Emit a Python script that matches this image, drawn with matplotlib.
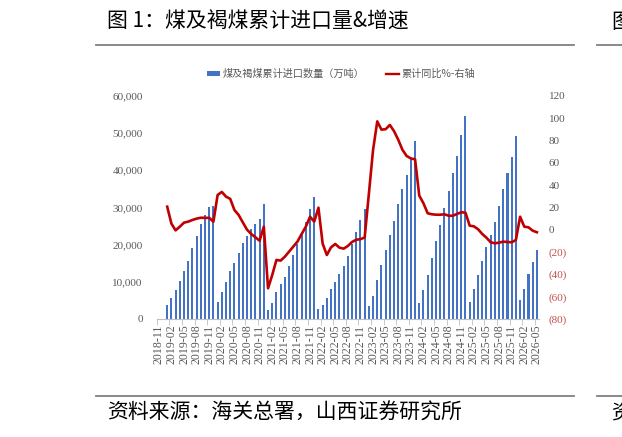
import numpy as np
import matplotlib
matplotlib.use('Agg')
import matplotlib.pyplot as plt
from matplotlib.patches import Patch
from matplotlib.lines import Line2D
from matplotlib.ticker import FuncFormatter

plt.rcParams['font.family'] = ['Noto Sans CJK SC', 'DejaVu Sans']

# cumulative coal & lignite imports, 10k tons (Jan..Dec of each year)
imp_2019 = [3760, 5560, 7800, 10300, 12900, 15700, 19100, 22400, 25400, 27900, 30100, 30300]
imp_2020 = [4700, 7200, 9900, 12900, 15100, 17700, 20300, 22400, 24200, 25500, 26800, 30800]
imp_2021 = [2400, 4400, 7200, 9400, 11400, 14300, 17300, 20100, 23000, 26100, 29600, 32700]
imp_2022 = [2700, 3800, 5600, 8000, 9900, 12000, 14200, 17000, 20200, 23300, 26600, 29600]
imp_2023 = [3500, 6300, 10500, 14500, 18500, 22500, 26400, 30900, 35000, 38600, 42900, 47700]
imp_2024 = [4200, 7800, 11800, 16300, 20900, 25300, 29800, 34500, 39200, 43900, 49500, 54600]
imp_2025 = [4600, 8000, 11700, 15600, 19300, 22600, 26000, 30300, 34900, 39100, 43500, 49300]
imp_2026 = [5000, 8100, 12000, 15200, 18500]

# cumulative yoy, %
yoy_2019 = [20.6, 5.4, -0.6, 2.7, 6.3, 7.2, 8.7, 9.9, 10.7, 10.6, 10.6, 7.2]
yoy_2020 = [31.1, 33.8, 29.6, 27.6, 17.6, 13.2, 6.5, 0.0, -3.9, -6.8, -9.9, 2.7]
yoy_2021 = [-52.5, -40.6, -27.1, -27.7, -24.2, -19.7, -15.2, -10.7, -3.9, 2.7, 11.6, 7.2]
yoy_2022 = [19.7, -12.5, -22.7, -15.8, -12.8, -16.1, -17.0, -14.6, -11.0, -9.0, -8.5, -7.0]
yoy_2023 = [32.0, 71.4, 97.0, 89.6, 90.0, 93.8, 88.2, 80.5, 71.5, 66.0, 63.8, 63.0]
yoy_2024 = [30.5, 23.6, 14.7, 13.8, 13.4, 13.4, 13.8, 12.5, 12.5, 14.1, 15.6, 15.2]
yoy_2025 = [3.6, 3.0, 0.4, -3.9, -7.2, -11.3, -12.2, -11.6, -10.7, -11.0, -11.3, -9.2]
yoy_2026 = [11.6, 2.7, 2.1, -0.9, -2.3]

months = ['2018-11', '2018-12']
for y in range(2019, 2026):
    months += ['%d-%02d' % (y, m) for m in range(1, 13)]
months += ['2026-%02d' % m for m in range(1, 6)]

imports = [np.nan, np.nan] + imp_2019 + imp_2020 + imp_2021 + imp_2022 + imp_2023 + imp_2024 + imp_2025 + imp_2026
yoy = [np.nan, np.nan] + yoy_2019 + yoy_2020 + yoy_2021 + yoy_2022 + yoy_2023 + yoy_2024 + yoy_2025 + yoy_2026

W, H = 622, 437
bar_c = '#4472C4'
line_c = '#C00000'
grey = '#595959'

fig = plt.figure(figsize=(W / 100, H / 100), dpi=100)
ax = fig.add_axes([156.7 / W, 1 - 319 / H, (539 - 156.7) / W, (319 - 95.7) / H])

x = np.arange(len(months))
ax.bar(x, imports, width=0.48, color=bar_c)
ax.set_xlim(-0.5, len(months) - 0.5)
ax.set_ylim(0, 60000)
ax.set_yticks(range(0, 60001, 10000))
ax.yaxis.set_major_formatter(FuncFormatter(lambda v, p: f'{int(v):,}'))
for s in ['left', 'right', 'top']:
    ax.spines[s].set_visible(False)
ax.spines['bottom'].set_color('#BFBFBF')
ax.tick_params(axis='y', length=0, pad=10, labelsize=8, labelcolor=grey)
for t in ax.get_yticklabels():
    t.set_family('Liberation Serif')

ax.set_xticks(x[::3])
ax.set_xticklabels(months[::3], rotation=90, fontsize=8.6, color=grey, family='Liberation Serif')
ax.set_xticks(np.arange(-0.5, len(months), 3), minor=True)
ax.tick_params(axis='x', which='major', length=0, pad=4)
ax.tick_params(axis='x', which='minor', length=4, color='#BFBFBF')

ax2 = ax.twinx()
ax2.plot(x, yoy, color=line_c, lw=1.9)
ax2.set_ylim(-80, 120)
ticks = list(range(-80, 121, 20))
ax2.set_yticks(ticks)
ax2.set_yticklabels([f'({-t})' if t < 0 else str(t) for t in ticks], family='Liberation Serif')
for t, v in zip(ax2.get_yticklabels(), ticks):
    t.set_color('#C0504D' if v < 0 else grey)
for s in ['left', 'right', 'top', 'bottom']:
    ax2.spines[s].set_visible(False)
ax2.tick_params(axis='y', length=0, pad=7, labelsize=8)

handles = [Patch(facecolor=bar_c), Line2D([], [], color=line_c, lw=1.7)]
labels = ['煤及褐煤累计进口数量（万吨）', '累计同比%-右轴']
fig.legend(handles, labels, loc='center', bbox_to_anchor=(341 / W, 1 - 74 / H), ncol=2,
           frameon=False, fontsize=7.3, labelcolor=grey, handlelength=1.3, handleheight=0.5,
           handletextpad=0.2, columnspacing=2.2)

fig.text(107 / W, 1 - 22 / H, '图 1：煤及褐煤累计进口量&增速', fontsize=15, va='center', ha='left')
fig.text(107 / W, 1 - 413 / H, '资料来源：海关总署，山西证券研究所', fontsize=15, va='center', ha='left')
# edge of the neighbouring figure, clipped by the page
fig.text(611 / W, 1 - 22 / H, '图', fontsize=15, va='center', ha='left')
fig.text(611 / W, 1 - 413 / H, '资', fontsize=15, va='center', ha='left')

for yy in [45, 396]:
    fig.add_artist(Line2D([95.7 / W, 574 / W], [1 - yy / H] * 2, color='#808080', lw=1.3))
    fig.add_artist(Line2D([597 / W, 1.0], [1 - yy / H] * 2, color='#808080', lw=1.3))

fig.savefig('out.png', dpi=100)
